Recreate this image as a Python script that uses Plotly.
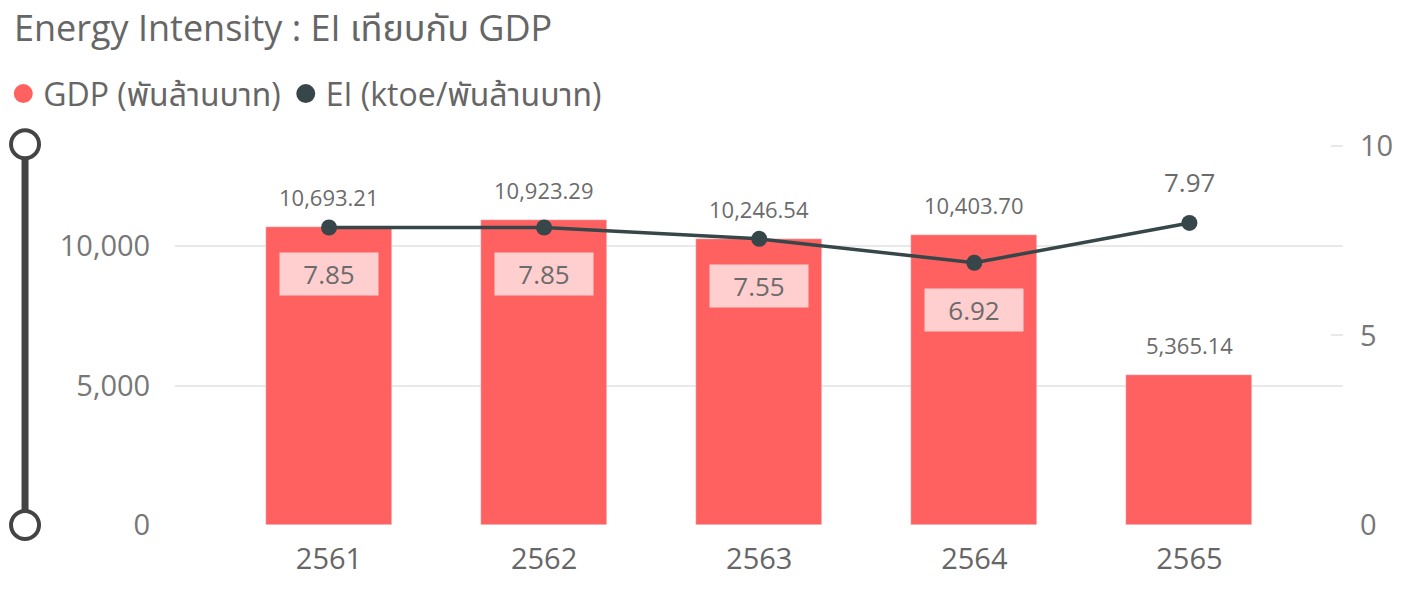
import plotly.graph_objects as go

years = ["2561", "2562", "2563", "2564", "2565"]
gdp = [10693.21, 10923.29, 10246.54, 10403.70, 5365.14]
ei = [7.85, 7.85, 7.55, 6.92, 7.97]
gdp_name = "GDP (พันล้านบาท)"
ei_name = "EI (ktoe/พันล้านบาท)"
title_text = "Energy Intensity : EI เทียบกับ GDP"
left_ticks = [0, 5000, 10000]
right_ticks = [0, 5, 10]

BAR = "#FF6060"
LINE = "#374649"
TXT = "#6B6B6B"
FONT = "Segoe UI, Open Sans, Noto Sans, Noto Sans Thai, sans-serif"

xs = list(range(len(years)))

fig = go.Figure()
fig.add_trace(go.Bar(x=xs, y=gdp, name=gdp_name, marker_color=BAR, width=0.586,
                     showlegend=False, yaxis="y"))
fig.add_trace(go.Scatter(x=xs, y=ei, name=ei_name, mode="lines+markers",
                         line=dict(color=LINE, width=3.5),
                         marker=dict(color=LINE, size=16),
                         showlegend=False, yaxis="y2"))
# legend-only entries (circle symbols)
fig.add_trace(go.Scatter(x=[None], y=[None], mode="markers", name=gdp_name,
                         marker=dict(color=BAR, size=16, symbol="circle",
                                     line=dict(color=BAR, width=3))))
fig.add_trace(go.Scatter(x=[None], y=[None], mode="markers", name=ei_name,
                         marker=dict(color=LINE, size=16, symbol="circle",
                                     line=dict(color=LINE, width=3))))

annotations = []
for x, v in zip(xs, gdp):
    annotations.append(dict(x=x, y=v, xref="x", yref="y", text=f"{v:,.2f}",
                            showarrow=False, yanchor="middle", yshift=30,
                            font=dict(size=22, color=TXT, family=FONT)))
for i, (x, v) in enumerate(zip(xs, ei)):
    if i < len(ei) - 1:
        annotations.append(dict(x=x, y=v, xref="x", yref="y2", text=f"{v:.2f}",
                                showarrow=False, yanchor="middle", yshift=-47,
                                width=96, height=40,
                                bgcolor="rgba(255,255,255,0.7)",
                                font=dict(size=26, color=TXT, family=FONT)))
    else:
        annotations.append(dict(x=x, y=v, xref="x", yref="y2", text=f"{v:.2f}",
                                showarrow=False, yanchor="middle", yshift=41,
                                font=dict(size=26, color=TXT, family=FONT)))

SX = -0.1284
shapes = [
    dict(type="line", xref="paper", yref="paper", x0=SX, x1=SX,
         y0=0.0, y1=0.989, line=dict(color="#444444", width=7), layer="above"),
    dict(type="circle", xref="paper", yref="paper", xsizemode="pixel", ysizemode="pixel",
         xanchor=SX, yanchor=0.989, x0=-14, x1=14, y0=-14, y1=14,
         fillcolor="white", line=dict(color="#444444", width=4), layer="above"),
    dict(type="circle", xref="paper", yref="paper", xsizemode="pixel", ysizemode="pixel",
         xanchor=SX, yanchor=0.0, x0=-14, x1=14, y0=-14, y1=14,
         fillcolor="white", line=dict(color="#444444", width=4), layer="above"),
]

fig.update_layout(
    width=1409, height=600,
    margin=dict(l=175, r=66, t=140, b=75, autoexpand=False),
    paper_bgcolor="white", plot_bgcolor="white",
    font=dict(family=FONT, color=TXT),
    title=dict(text=title_text, x=14/1409, xref="container", xanchor="left",
               y=1-28/600, yanchor="middle",
               font=dict(size=36, color="#666666", family=FONT)),
    legend=dict(orientation="h", x=-0.147, xanchor="left", y=1.12, yanchor="middle",
                font=dict(size=32, color="#666666", family=FONT),
                itemsizing="trace", tracegroupgap=0, itemwidth=30),
    xaxis=dict(tickmode="array", tickvals=xs, ticktext=years, range=[-0.716, 4.714],
               showgrid=False, zeroline=False, showline=False,
               ticks="outside", ticklen=8, tickcolor="rgba(0,0,0,0)",
               tickfont=dict(size=29, color="#666666")),
    yaxis=dict(range=[0, 13799], tickvals=left_ticks, tickformat=",",
               showgrid=True, gridcolor="#E9E9E9", gridwidth=2, zeroline=False,
               showline=False, ticks="outside", ticklen=18, tickcolor="rgba(0,0,0,0)",
               tickfont=dict(size=29, color="#777777")),
    yaxis2=dict(range=[0, 10.158], tickvals=right_ticks, overlaying="y", side="right",
                showgrid=False, zeroline=False, showline=False,
                ticks="inside", ticklen=12, tickcolor="#E9E9E9", tickwidth=2,
                ticklabelstandoff=16,
                tickfont=dict(size=29, color="#777777")),
    bargap=0.0,
    annotations=annotations,
    shapes=shapes,
)

fig.write_html("out.html", config={"displayModeBar": False},
               post_script="document.body.style.margin='0px';document.body.style.overflow='hidden';")
